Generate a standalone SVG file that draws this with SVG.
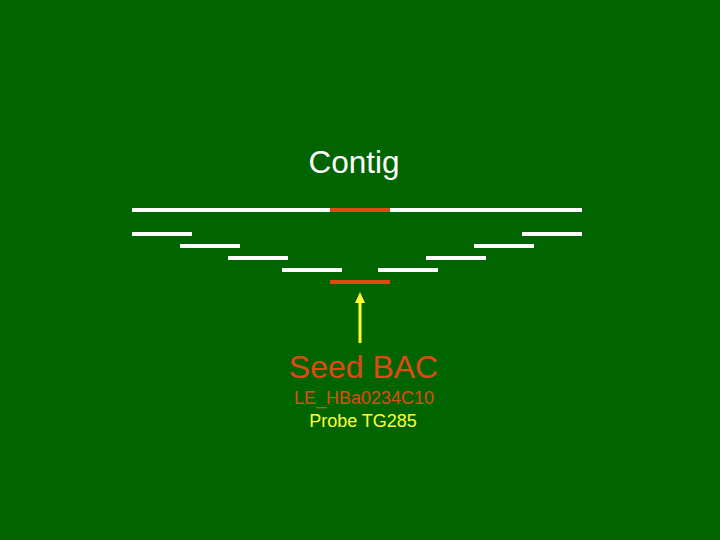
<svg xmlns="http://www.w3.org/2000/svg" width="720" height="540" viewBox="0 0 720 540">
<defs>
<style>
.w{stroke:#ffffff;stroke-width:4}
.r{stroke:#e04a12;stroke-width:4}
text{font-family:"Liberation Sans",Arial,sans-serif;text-anchor:middle}
</style>
</defs>
<rect width="720" height="540" fill="#006400"/>
<g id="title"><text x="354" y="173" font-size="31.5" fill="#ffffff">Contig</text></g>
<g id="contig">
<line class="w" x1="132" y1="210" x2="330" y2="210"/>
<line class="r" x1="330" y1="210" x2="390" y2="210"/>
<line class="w" x1="390" y1="210" x2="582" y2="210"/>
</g>
<g id="bacs">
<line class="w" x1="132" y1="234" x2="192" y2="234"/>
<line class="w" x1="522" y1="234" x2="582" y2="234"/>
<line class="w" x1="180" y1="246" x2="240" y2="246"/>
<line class="w" x1="474" y1="246" x2="534" y2="246"/>
<line class="w" x1="228" y1="258" x2="288" y2="258"/>
<line class="w" x1="426" y1="258" x2="486" y2="258"/>
<line class="w" x1="282" y1="270" x2="342" y2="270"/>
<line class="w" x1="378" y1="270" x2="438" y2="270"/>
</g>
<g id="seed"><line class="r" x1="330" y1="282" x2="390" y2="282"/></g>
<g id="connectors">
<line x1="360" y1="343" x2="360" y2="302" stroke="#ffff33" stroke-width="3"/>
<polygon points="360,292 355,303 365,303" fill="#ffff33"/>
</g>
<g id="labels">
<text x="363.5" y="378" font-size="32" fill="#e04a12">Seed BAC</text>
<text x="364" y="404" font-size="18" fill="#e04a12">LE_HBa0234C10</text>
<text x="363" y="427" font-size="18" fill="#ffff33">Probe TG285</text>
</g>
</svg>
